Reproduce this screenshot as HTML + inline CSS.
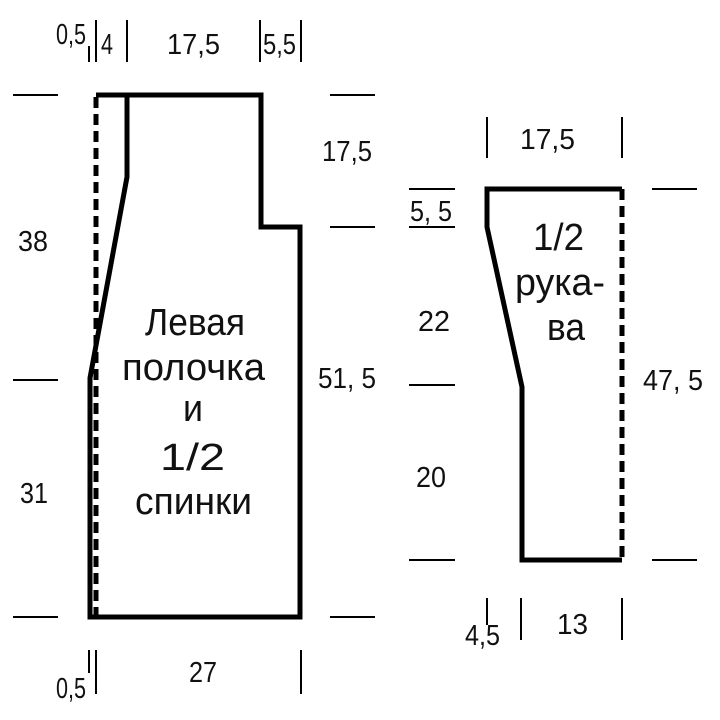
<!DOCTYPE html>
<html><head><meta charset="utf-8"><style>html,body{margin:0;padding:0;background:#fff}svg{display:block}</style></head><body>
<svg width="720" height="720" viewBox="0 0 720 720" xmlns="http://www.w3.org/2000/svg" font-family="'Liberation Sans',sans-serif" fill="#111">
<g stroke="#000" fill="none">
<path d="M96 95 H261 V227 H300 V617 H90 V378 L127 177 V95" stroke-width="5"/>
<line x1="96" y1="97" x2="96" y2="617" stroke-width="5" stroke-dasharray="11,6"/>
<path d="M622 189 H487 V227 L522 387 V560 H622" stroke-width="5"/>
<line x1="622" y1="189" x2="622" y2="562" stroke-width="5" stroke-dasharray="11,6"/>
<g stroke-width="2">
<line x1="89" y1="46" x2="89" y2="62"/><line x1="96" y1="20" x2="96" y2="62"/>
<line x1="127" y1="20" x2="127" y2="62"/><line x1="260" y1="20" x2="260" y2="62"/><line x1="301" y1="20" x2="301" y2="62"/>
<line x1="13" y1="95" x2="58" y2="95"/><line x1="13" y1="380" x2="58" y2="380"/><line x1="13" y1="617" x2="58" y2="617"/>
<line x1="330" y1="95" x2="375" y2="95"/><line x1="330" y1="227" x2="375" y2="227"/><line x1="330" y1="617" x2="375" y2="617"/>
<line x1="89" y1="650" x2="89" y2="673"/><line x1="96" y1="650" x2="96" y2="694"/><line x1="301" y1="650" x2="301" y2="694"/>
<line x1="487" y1="117" x2="487" y2="158"/><line x1="622" y1="117" x2="622" y2="158"/>
<line x1="409" y1="189" x2="455" y2="189"/><line x1="409" y1="227" x2="455" y2="227"/><line x1="409" y1="385" x2="455" y2="385"/><line x1="409" y1="560" x2="455" y2="560"/>
<line x1="652" y1="189" x2="697" y2="189"/><line x1="652" y1="560" x2="697" y2="560"/>
<line x1="487" y1="598" x2="487" y2="625"/><line x1="521" y1="598" x2="521" y2="640"/><line x1="622" y1="598" x2="622" y2="640"/>
</g></g>
<g font-size="29" lengthAdjust="spacingAndGlyphs">
<text x="56" y="44" textLength="30" lengthAdjust="spacingAndGlyphs">0,5</text>
<text x="101" y="54" textLength="12" lengthAdjust="spacingAndGlyphs">4</text>
<text x="167" y="54" textLength="53" lengthAdjust="spacingAndGlyphs">17,5</text>
<text x="263" y="54" textLength="33" lengthAdjust="spacingAndGlyphs">5,5</text>
<text x="18" y="251" textLength="30" lengthAdjust="spacingAndGlyphs">38</text>
<text x="20" y="503" textLength="28" lengthAdjust="spacingAndGlyphs">31</text>
<text x="322" y="161" textLength="50" lengthAdjust="spacingAndGlyphs">17,5</text>
<text x="318" y="388" textLength="58" lengthAdjust="spacingAndGlyphs">51, 5</text>
<text x="56" y="698" textLength="30" lengthAdjust="spacingAndGlyphs">0,5</text>
<text x="189" y="682" textLength="28" lengthAdjust="spacingAndGlyphs">27</text>
<text x="520" y="149" textLength="55" lengthAdjust="spacingAndGlyphs">17,5</text>
<text x="410" y="221" textLength="42" lengthAdjust="spacingAndGlyphs">5, 5</text>
<text x="418" y="331" textLength="32" lengthAdjust="spacingAndGlyphs">22</text>
<text x="416" y="487" textLength="30" lengthAdjust="spacingAndGlyphs">20</text>
<text x="643" y="390" textLength="60" lengthAdjust="spacingAndGlyphs">47, 5</text>
<text x="465" y="645" textLength="35" lengthAdjust="spacingAndGlyphs">4,5</text>
<text x="557" y="634" textLength="31" lengthAdjust="spacingAndGlyphs">13</text>
</g>
<g font-size="38">
<text x="145" y="335" textLength="100" lengthAdjust="spacingAndGlyphs">Левая</text>
<text x="122" y="380" textLength="143" lengthAdjust="spacingAndGlyphs">полочка</text>
<text x="183" y="421" textLength="20" lengthAdjust="spacingAndGlyphs">и</text>
<text x="160" y="470" textLength="65" lengthAdjust="spacingAndGlyphs">1/2</text>
<text x="135" y="514" textLength="117" lengthAdjust="spacingAndGlyphs">спинки</text>
<text x="533" y="250" textLength="51" lengthAdjust="spacingAndGlyphs">1/2</text>
<text x="515" y="295" textLength="90" lengthAdjust="spacingAndGlyphs">рука-</text>
<text x="547" y="340" textLength="38" lengthAdjust="spacingAndGlyphs">ва</text>
</g>
</svg>
</body></html>
